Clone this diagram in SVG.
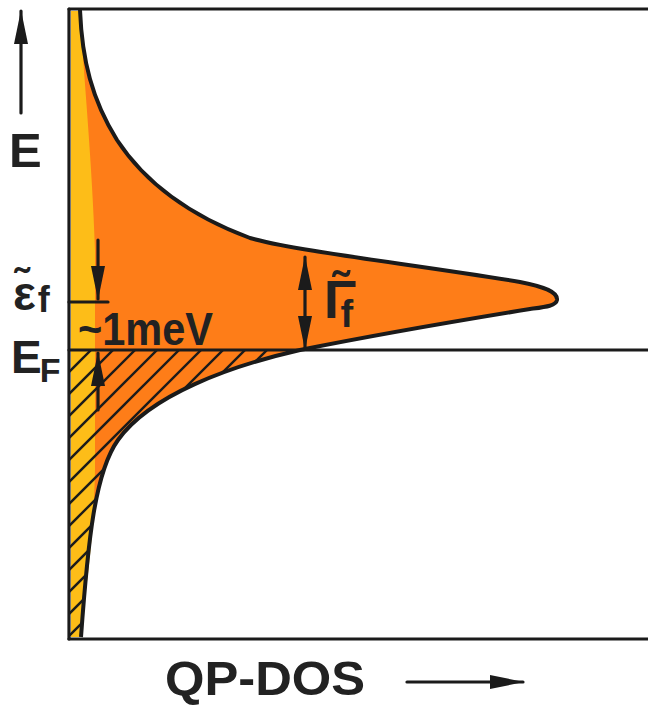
<svg xmlns="http://www.w3.org/2000/svg" width="648" height="706" viewBox="0 0 648 706">
<defs>
<style>
.ln{stroke:#1b1b1b;stroke-width:3.2;fill:none;stroke-linecap:round}
.curve{stroke:#1b1b1b;stroke-width:4;fill:none;stroke-linejoin:round}
.hatch{stroke:#1b1b1b;stroke-width:2.4}
.lbl{font-family:"Liberation Sans",Arial,sans-serif;font-weight:bold;fill:#222}
</style>
<marker id="ah" viewBox="0 0 34 14" refX="33" refY="7" markerWidth="34" markerHeight="14" markerUnits="userSpaceOnUse" orient="auto-start-reverse">
<path d="M0,0 L34,7 L0,14 Z" fill="#1b1b1b"/>
</marker>
<clipPath id="hclip">
<path d="M69,350 L300,350 C230,366 150,395 118,440 C95,472 88,540 81,637 L69,637 Z"/>
</clipPath>
</defs>
<rect width="648" height="706" fill="#ffffff"/>

<g id="dos">
<path id="orange" fill="#fe7d18" d="M71,11 L80,11 C82,60 92,100 117,140 C140,175 180,212 250,238 C300,252 420,265 520,282 C545,287 558,292 557,300 C556,306 545,307 530,309 C450,322 370,336 300,350 C230,366 150,395 118,440 C95,472 88,540 81,637 L71,637 Z"/>
<path id="yellow" fill="#fdbd18" d="M71,11 L80,11 C84,80 92,160 95,250 L95,470 C94,520 90,560 86,590 C84,610 82,625 81,637 L71,637 Z"/>
<g id="hatching" clip-path="url(#hclip)">
<line class="hatch" x1="-199" y1="640" x2="101" y2="340"/>
<line class="hatch" x1="-177" y1="640" x2="123" y2="340"/>
<line class="hatch" x1="-155" y1="640" x2="145" y2="340"/>
<line class="hatch" x1="-133" y1="640" x2="167" y2="340"/>
<line class="hatch" x1="-111" y1="640" x2="189" y2="340"/>
<line class="hatch" x1="-89" y1="640" x2="211" y2="340"/>
<line class="hatch" x1="-67" y1="640" x2="233" y2="340"/>
<line class="hatch" x1="-45" y1="640" x2="255" y2="340"/>
<line class="hatch" x1="-23" y1="640" x2="277" y2="340"/>
<line class="hatch" x1="-1" y1="640" x2="299" y2="340"/>
<line class="hatch" x1="21" y1="640" x2="321" y2="340"/>
<line class="hatch" x1="43" y1="640" x2="343" y2="340"/>
<line class="hatch" x1="65" y1="640" x2="365" y2="340"/>
</g>
<path id="dos-curve" class="curve" d="M80,10 C82,60 92,100 117,140 C140,175 180,212 250,238 C300,252 420,265 520,282 C545,287 558,292 557,300 C556,306 545,307 530,309 C450,322 370,336 300,350 C230,366 150,395 118,440 C95,472 88,540 81,637"/>
</g>

<g id="frame">
<line class="ln" x1="69" y1="9" x2="648" y2="9"/>
<line class="ln" x1="69" y1="9" x2="69" y2="639"/>
<line class="ln" x1="69" y1="639" x2="648" y2="639"/>
<line id="fermi-level" class="ln" x1="69" y1="350" x2="648" y2="350"/>
<line id="eps-tick" class="ln" x1="69" y1="302" x2="108" y2="302"/>
</g>

<g id="connectors">
<line class="ln" x1="21" y1="113" x2="21" y2="11" marker-end="url(#ah)"/>
<line class="ln" x1="98" y1="240" x2="98" y2="299" marker-end="url(#ah)"/>
<line class="ln" x1="98" y1="410" x2="98" y2="353" marker-end="url(#ah)"/>
<line class="ln" x1="305" y1="257" x2="305" y2="349" marker-start="url(#ah)" marker-end="url(#ah)"/>
<line class="ln" x1="407" y1="682" x2="523" y2="682" marker-end="url(#ah)"/>
</g>

<g id="labels">
<text class="lbl" x="9" y="167" font-size="49">E</text>
<text id="eps-f" class="lbl" x="13" y="310" font-size="48">ε̃<tspan dx="2" dy="2" font-size="36">f</tspan></text>
<text id="E-F" class="lbl" x="11" y="373" font-size="46">E<tspan dx="-2" dy="9" font-size="34">F</tspan></text>
<text id="mev" class="lbl" x="78" y="345" font-size="46" textLength="135" lengthAdjust="spacingAndGlyphs">~1meV</text>
<text id="gamma-f" class="lbl" x="324" y="318" font-size="54">Γ̃<tspan dx="-16" dy="9" font-size="38">f</tspan></text>
<text id="qpdos" class="lbl" x="165" y="695" font-size="48" textLength="200" lengthAdjust="spacingAndGlyphs">QP-DOS</text>
</g>
</svg>
